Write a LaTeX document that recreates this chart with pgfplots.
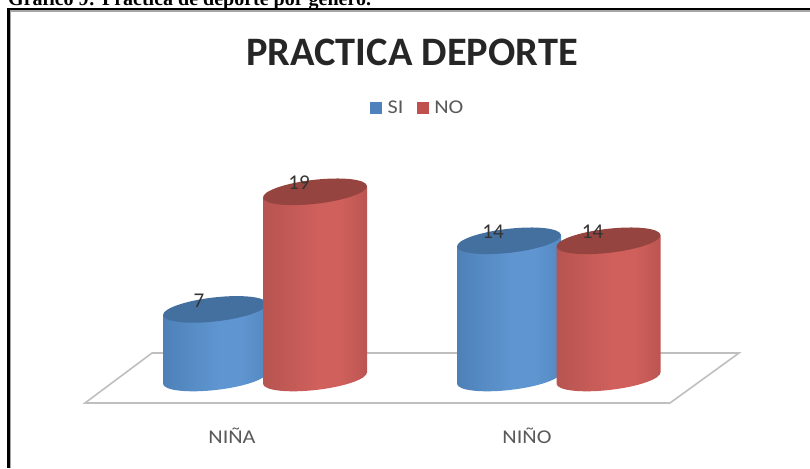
\documentclass[border=0pt]{standalone}
\usepackage{fontspec}
\setmainfont{Carlito}
\newfontfamily\headfont{Liberation Serif}
\newfontfamily\widefont[FakeStretch=1.14]{Carlito}
\usepackage{pgfplots}
\pgfplotsset{compat=1.18}
\usepackage{pgfplotstable}

\definecolor{blueTop}{HTML}{44709F}
\definecolor{redTop}{HTML}{96443F}
\definecolor{blueKey}{HTML}{4F81BD}
\definecolor{redKey}{HTML}{C0504D}
\definecolor{floorLine}{HTML}{BFBFBF}
\definecolor{labelGray}{HTML}{595959}
\definecolor{bA}{HTML}{3A6391}
\definecolor{bB}{HTML}{4676AB}
\definecolor{bC}{HTML}{5F96D1}
\definecolor{bD}{HTML}{4A79AF}
\definecolor{bE}{HTML}{325A86}
\definecolor{rA}{HTML}{85403E}
\definecolor{rB}{HTML}{AD4F4C}
\definecolor{rC}{HTML}{D0605C}
\definecolor{rD}{HTML}{A84C49}
\definecolor{rE}{HTML}{682B2A}

% Horizontal light falloff across the round side of each cylinder
\pgfdeclarehorizontalshading{blueSide}{100bp}{
  color(0bp)=(bA);
  color(12bp)=(bB);
  color(52bp)=(bC);
  color(62bp)=(bC);
  color(88bp)=(bD);
  color(100bp)=(bE)}
\pgfdeclarehorizontalshading{redSide}{100bp}{
  color(0bp)=(rA);
  color(14bp)=(rB);
  color(52bp)=(rC);
  color(62bp)=(rC);
  color(86bp)=(rD);
  color(100bp)=(rE)}

% One cylinder per data point; the body height comes from the point's value
\newcommand{\cylindermark}[3]{%
  \pgfdeclareplotmark{#1}{%
    \pgfmathsetlengthmacro{\bodyh}{\val*9.8pt}%
    % lower cap and side share one silhouette, so the shading runs unbroken
    \begin{pgfscope}
      \pgfpathellipse{\pgfpoint{0pt}{-\bodyh}}{\pgfpoint{51.96pt}{5.92pt}}{\pgfpoint{-1.36pt}{11.92pt}}%
      \pgfpathmoveto{\pgfpoint{-52pt}{-5.5pt}}%
      \pgfpathlineto{\pgfpointadd{\pgfpoint{-52pt}{-5.5pt}}{\pgfpoint{0pt}{-\bodyh}}}%
      \pgfpathlineto{\pgfpointadd{\pgfpoint{52pt}{5.5pt}}{\pgfpoint{0pt}{-\bodyh}}}%
      \pgfpathlineto{\pgfpoint{52pt}{5.5pt}}%
      \pgfpathclose
      \pgfshadepath{#2}{0}%
      \pgfusepath{discard}%
    \end{pgfscope}
    % upper cap
    \begin{pgfscope}
      \pgfsetfillcolor{#3}%
      \pgfpathellipse{\pgfpointorigin}{\pgfpoint{51.96pt}{5.92pt}}{\pgfpoint{-1.36pt}{11.92pt}}%
      \pgfusepath{fill}%
    \end{pgfscope}
  }%
}
\cylindermark{cylBlue}{blueSide}{blueTop}
\cylindermark{cylRed}{redSide}{redTop}

\pgfplotstableread{
x   v
215 7
509 14
}\siData
\pgfplotstableread{
x     v
315   19
608.5 14
}\noData

\begin{document}
\begin{tikzpicture}[x=1pt,y=1pt]
\clip (0,0) rectangle (810,468);
\begin{axis}[
  at={(0,0)}, anchor=south west,
  x=1pt, y=9.8pt,
  xmin=0, xmax=810,
  ymin=-9.1837, ymax=38.5714,
  clip=false,
  axis line style={draw=none},
  major tick style={draw=none},
  ytick=\empty,
  xtick={232,527},
  xticklabels={NIÑA,NIÑO},
  xticklabel style={font=\widefont\fontsize{19.5}{22}\selectfont, text=labelGray, anchor=center, yshift=32pt},
  title={\textbf{PRACTICA DEPORTE}},
  title style={at={(412/810,409.5/468)}, anchor=center, yshift=0pt, font=\fontsize{40.4}{42}\selectfont, text=black!85},
  legend columns=2,
  legend style={at={(418/810,360/468)}, anchor=center, draw=none, fill=none,
    font=\widefont\fontsize{19.5}{22}\selectfont, text=labelGray,
    /tikz/every odd column/.append style={column sep=4pt},
    /tikz/every even column/.append style={column sep=12pt}},
  /pgf/number format/assume math mode=true,
  every node near coord/.style={font=\fontsize{21}{23}\selectfont, text=black!80, anchor=center, xshift=-16pt, yshift=9pt},
  visualization depends on={rawy \as \val},
]
% floor of the chart
\addplot[draw=floorLine, line width=1.6pt, fill=white, forget plot]
  coordinates {(85,-2.55)(670,-2.55)(739,2.55)(152,2.55)} -- cycle;

\addlegendimage{only marks, mark=square*, mark size=5.5pt, mark options={draw=blueKey, fill=blueKey}}
\addlegendentry{SI}
\addlegendimage{only marks, mark=square*, mark size=5.5pt, mark options={draw=redKey, fill=redKey}}
\addlegendentry{NO}

% cylinders, blue series behind the red one
\addplot[scatter, only marks, mark=cylBlue, nodes near coords, forget plot] table[x=x,y=v] {\siData};
\addplot[scatter, only marks, mark=cylRed, nodes near coords, forget plot] table[x=x,y=v] {\noData};
\end{axis}
% page furniture above the chart
\draw[black, line width=2.6pt] (8.5,0) -- (8.5,459) -- (810,459);
\draw[black!35, line width=1.2pt] (10.6,0) -- (10.6,457) -- (810,457);
\node[anchor=base west, inner sep=0pt, font=\headfont\bfseries\fontsize{20}{22}\selectfont] at (8,462.5) {Gráfico 9: Práctica de deporte por género.};
\end{tikzpicture}
\end{document}
